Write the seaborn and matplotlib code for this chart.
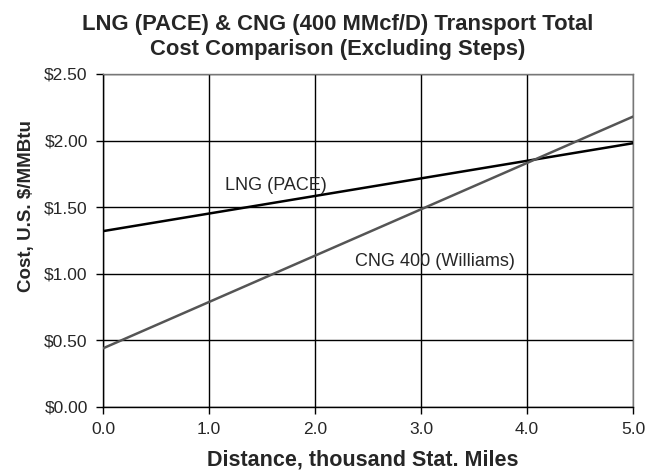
import matplotlib
matplotlib.use("Agg")
import matplotlib.pyplot as plt
import seaborn as sns
import pandas as pd

distance = [0.0, 5.0]
lng_cost = [1.32, 1.98]
cng_cost = [0.44, 2.18]
series_names = ["LNG (PACE)", "CNG 400 (Williams)"]
x_ticks = [0.0, 1.0, 2.0, 3.0, 4.0, 5.0]
y_ticks = [0.0, 0.5, 1.0, 1.5, 2.0, 2.5]

df = pd.DataFrame({
    "Distance": distance * 2,
    "Cost": lng_cost + cng_cost,
    "Series": [series_names[0]] * 2 + [series_names[1]] * 2,
})

sns.set_theme(style="white")
plt.rcParams["font.family"] = ["Liberation Sans", "DejaVu Sans"]

fig, ax = plt.subplots(figsize=(6.48, 4.71), dpi=100)
fig.subplots_adjust(left=0.159, right=0.977, top=0.843, bottom=0.136)

sns.lineplot(data=df, x="Distance", y="Cost", hue="Series",
             palette={series_names[0]: "#000000", series_names[1]: "#555555"},
             linewidth=1.8, legend=False, ax=ax, zorder=3)

ax.set_xlim(0, 5)
ax.set_ylim(0, 2.5)
ax.set_xticks(x_ticks)
ax.set_yticks(y_ticks)
ax.set_xticklabels([f"{v:.1f}" for v in x_ticks], fontsize=12.5)
ax.set_yticklabels([f"${v:.2f}" for v in y_ticks], fontsize=12.5)
ax.grid(True, color="black", linewidth=1.0)
ax.tick_params(axis="both", direction="out", length=5, width=1, color="black",
               bottom=True, left=True, pad=6)
for side in ["left", "bottom"]:
    ax.spines[side].set_color("black")
    ax.spines[side].set_linewidth(1.0)
for side in ["top", "right"]:
    ax.spines[side].set_color("#777777")
    ax.spines[side].set_linewidth(1.0)

ax.set_xlabel("Distance, thousand Stat. Miles", fontsize=15.5, fontweight="bold")
ax.xaxis.set_label_coords(0.49, -0.128)
ax.set_ylabel("Cost, U.S. $/MMBtu", fontsize=13.5, fontweight="bold")
ax.yaxis.set_label_coords(-0.128, 0.604)
ax.set_title("LNG (PACE) & CNG (400 MMcf/D) Transport Total\nCost Comparison (Excluding Steps)",
             fontsize=15.8, fontweight="bold", pad=14, x=0.443)

ax.text(1.15, 1.665, series_names[0], fontsize=13, ha="left", va="center")
ax.text(2.38, 1.09, series_names[1], fontsize=13, ha="left", va="center")

fig.savefig("out.png", dpi=100)
